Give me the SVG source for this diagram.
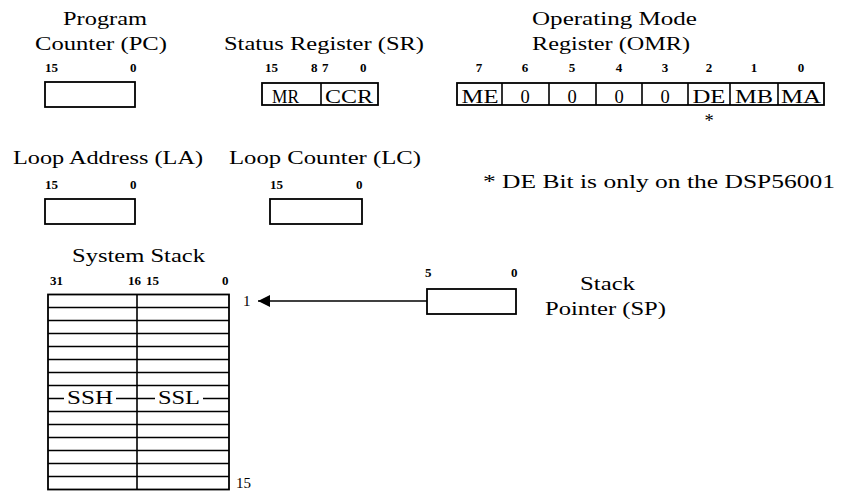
<svg xmlns="http://www.w3.org/2000/svg" width="841" height="492" viewBox="0 0 841 492">
<style>
.t{font-family:"Liberation Serif","Times New Roman",serif;font-size:18.5px;fill:#000}
.b{font-family:"Liberation Serif","Times New Roman",serif;font-size:13px;font-weight:bold;fill:#000}
.n{font-family:"Liberation Serif","Times New Roman",serif;font-size:15px;fill:#000}
.bx{fill:none;stroke:#000;stroke-width:1.8}
.ln{stroke:#000;stroke-width:1.6;fill:none}
.mid{text-anchor:middle}
</style>
<defs>
<marker id="ah" viewBox="0 0 10 10" refX="10" refY="5" markerWidth="19" markerHeight="12" markerUnits="userSpaceOnUse" orient="auto"><path d="M0,0L10,5L0,10z" fill="#000"/></marker>
</defs>
<rect width="841" height="492" fill="#fff"/>

<g id="pc">
<text class="t" x="63" y="25" textLength="84" lengthAdjust="spacingAndGlyphs">Program</text>
<text class="t" x="35" y="50" textLength="132" lengthAdjust="spacingAndGlyphs">Counter (PC)</text>
<text class="b" x="45" y="72">15</text><text class="b" x="130" y="72">0</text>
<rect class="bx" x="45" y="82" width="90" height="25"/>
</g>

<g id="sr">
<text class="t" x="224" y="50" textLength="200" lengthAdjust="spacingAndGlyphs">Status Register (SR)</text>
<text class="b" x="265" y="72">15</text><text class="b" x="311" y="72">8</text><text class="b" x="322" y="72">7</text><text class="b" x="360" y="72">0</text>
<rect class="bx" x="262" y="83" width="116" height="22"/>
<line class="ln" x1="321" y1="83" x2="321" y2="105"/>
<text class="t" x="272" y="103" textLength="27" lengthAdjust="spacingAndGlyphs">MR</text>
<text class="t" x="325" y="103" textLength="48" lengthAdjust="spacingAndGlyphs">CCR</text>
</g>

<g id="omr">
<text class="t" x="532" y="25" textLength="165" lengthAdjust="spacingAndGlyphs">Operating Mode</text>
<text class="t" x="532" y="50" textLength="158" lengthAdjust="spacingAndGlyphs">Register (OMR)</text>
<g class="b mid">
<text x="479" y="72">7</text><text x="525" y="72">6</text><text x="572" y="72">5</text><text x="619" y="72">4</text>
<text x="665" y="72">3</text><text x="709" y="72">2</text><text x="754" y="72">1</text><text x="801" y="72">0</text>
</g>
<rect class="bx" x="457" y="83" width="367" height="22"/>
<path class="ln" d="M502,83V105M549,83V105M596,83V105M642,83V105M688,83V105M730,83V105M778,83V105"/>
<g class="t mid">
<text x="480" y="103" textLength="37" lengthAdjust="spacingAndGlyphs">ME</text>
<text x="525" y="103">0</text><text x="572" y="103">0</text><text x="619" y="103">0</text><text x="665" y="103">0</text>
<text x="709" y="103" textLength="33" lengthAdjust="spacingAndGlyphs">DE</text>
<text x="754" y="103" textLength="38" lengthAdjust="spacingAndGlyphs">MB</text>
<text x="801" y="103" textLength="40" lengthAdjust="spacingAndGlyphs">MA</text>
</g>
<text class="t mid" x="709" y="127">*</text>
</g>

<g id="la">
<text class="t" x="13" y="164" textLength="190" lengthAdjust="spacingAndGlyphs">Loop Address (LA)</text>
<text class="b" x="45" y="189">15</text><text class="b" x="130" y="189">0</text>
<rect class="bx" x="45" y="199" width="90" height="25"/>
</g>

<g id="lc">
<text class="t" x="229" y="164" textLength="192" lengthAdjust="spacingAndGlyphs">Loop Counter (LC)</text>
<text class="b" x="270" y="189">15</text><text class="b" x="356" y="189">0</text>
<rect class="bx" x="270" y="199" width="92" height="25"/>
</g>

<g id="note">
<text class="t" x="483" y="188" textLength="352" lengthAdjust="spacingAndGlyphs">* DE Bit is only on the DSP56001</text>
</g>

<g id="stack">
<text class="t" x="72" y="262" textLength="133" lengthAdjust="spacingAndGlyphs">System Stack</text>
<text class="b" x="50" y="285">31</text><text class="b" x="128" y="285">16</text><text class="b" x="146" y="285">15</text><text class="b" x="222" y="285">0</text>
<rect class="bx" x="48" y="294.5" width="181" height="195"/>
<line class="ln" x1="137" y1="294.5" x2="137" y2="489.5"/>
<path class="ln" d="M48,307.5H229M48,320.5H229M48,333.5H229M48,346.5H229M48,359.5H229M48,372.5H229M48,385.5H229M48,398.5H229M48,411.5H229M48,424.5H229M48,437.5H229M48,450.5H229M48,463.5H229M48,476.5H229"/>
<rect x="64" y="390" width="52" height="15" fill="#fff"/>
<rect x="155" y="390" width="48" height="15" fill="#fff"/>
<text class="t" x="67" y="404" textLength="46" lengthAdjust="spacingAndGlyphs">SSH</text>
<text class="t" x="158" y="404" textLength="42" lengthAdjust="spacingAndGlyphs">SSL</text>
<text class="n" x="243" y="306">1</text>
<text class="n" x="236" y="488">15</text>
</g>

<g id="sp">
<text class="b" x="425" y="277">5</text><text class="b" x="511" y="277">0</text>
<rect class="bx" x="427" y="289" width="89" height="25"/>
<text class="t" x="580" y="290" textLength="55" lengthAdjust="spacingAndGlyphs">Stack</text>
<text class="t" x="545" y="315" textLength="121" lengthAdjust="spacingAndGlyphs">Pointer (SP)</text>
</g>

<g id="connectors">
<line class="ln" x1="427" y1="301" x2="258" y2="301" marker-end="url(#ah)"/>
</g>
</svg>
